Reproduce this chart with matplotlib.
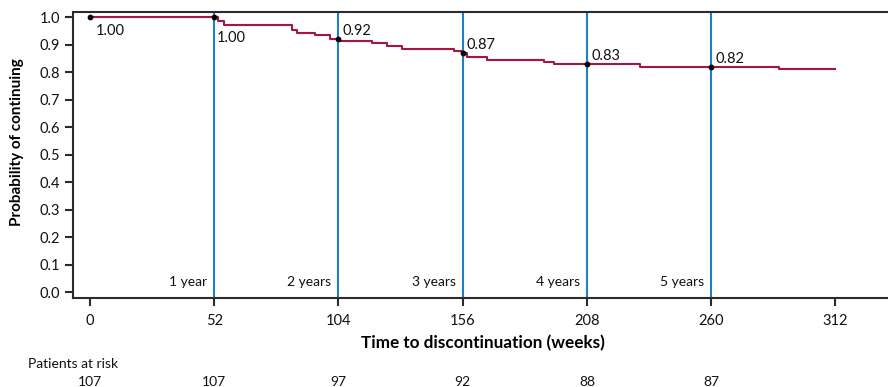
import numpy as np
import matplotlib
matplotlib.use("Agg")
import matplotlib.pyplot as plt
import matplotlib.transforms as mtransforms

plt.rcParams['font.family'] = ['Lato', 'DejaVu Sans']

# Kaplan-Meier step curve (weeks, probability)
step_weeks = [0, 53.6, 56.1, 84.4, 86.5, 94.2, 100.5, 104.5, 117.9, 124.2, 130.5,
              152.2, 155.5, 157.7, 166.0, 190.0, 194.3, 230.3, 288.4]
step_prob = [1.00, 0.988, 0.972, 0.954, 0.944, 0.935, 0.922, 0.914, 0.906, 0.896, 0.886,
             0.877, 0.869, 0.857, 0.847, 0.839, 0.829, 0.819, 0.811]
end_week = 312

# yearly markers
mark_weeks = [0, 52, 104, 156, 208, 260]
mark_prob = [1.00, 1.00, 0.92, 0.87, 0.83, 0.82]
mark_labels = ["1.00", "1.00", "0.92", "0.87", "0.83", "0.82"]

year_weeks = [52, 104, 156, 208, 260]
year_labels = ["1 year", "2 years", "3 years", "4 years", "5 years"]

xticks = [0, 52, 104, 156, 208, 260, 312]
yticks = [0.0, 0.1, 0.2, 0.3, 0.4, 0.5, 0.6, 0.7, 0.8, 0.9, 1.0]

risk_weeks = [0, 52, 104, 156, 208, 260]
risk_counts = [107, 107, 97, 92, 88, 87]

red = "#a5173f"
blue = "#1f7fc8"
dark = "#2b2b2b"
txt = "#111111"

fig = plt.figure(figsize=(8.88, 3.87), dpi=100)
ax = fig.add_axes([0.0822, 0.2307, 0.9178, 0.7383])

# year lines
for w in year_weeks:
    ax.axvline(w, color=blue, lw=1.5, zorder=1)

# step curve
xs = step_weeks + [end_week]
ys = step_prob + [step_prob[-1]]
ax.step(xs, ys, where="post", color=red, lw=1.5, zorder=2)

ax.scatter(mark_weeks, mark_prob, s=10, color="black", zorder=3)
# label offsets in points (first two sit below the dot)
offsets = [(4, -5), (2, -10), (3, 1), (3, 1), (3, 1), (3, 1)]
for (w, p, lab), off in zip(zip(mark_weeks, mark_prob, mark_labels), offsets):
    va = "top" if off[1] < 0 else "bottom"
    ax.annotate(lab, (w, p), xytext=off, textcoords="offset points",
                ha="left", va=va, fontsize=10.5, color=txt)

for w, lab in zip(year_weeks, year_labels):
    ax.text(w - 3, 0.015, lab, ha="right", va="bottom", fontsize=10, color=txt)

ax.set_xlim(-7.1, 334)
ax.set_ylim(-0.02, 1.02)
ax.set_xticks(xticks)
ax.set_yticks(yticks)
ax.set_yticklabels([f"{v:.1f}" for v in yticks])

ax.spines["right"].set_visible(False)
for s in ["left", "bottom", "top"]:
    ax.spines[s].set_color(dark)
    ax.spines[s].set_linewidth(1.5)
ax.tick_params(axis="both", direction="out", length=6, width=1.5, color=dark,
               labelsize=10.5, labelcolor=txt)
ax.tick_params(axis="x", pad=6)

ax.set_xlabel("Time to discontinuation (weeks)", fontsize=12.3, fontweight="bold")
ax.set_ylabel("Probability of continuing", fontsize=11, fontweight="bold")
# centre of x label at pixel (483, 343), y label at (17, 142)
ax.xaxis.set_label_coords((483 - 73) / (0.9178 * 888), (298 - 343) / 286)
ax.yaxis.set_label_coords((17 - 73) / (0.9178 * 888), (298 - 142) / 286)
ax.xaxis.label.set_va("center")
ax.yaxis.label.set_va("center")

# patients at risk
trans = mtransforms.blended_transform_factory(ax.transData, fig.transFigure)
fig.text(28 / 888, 1 - 364 / 387, "Patients at risk", ha="left", va="center",
         fontsize=10, color=txt)
for w, n in zip(risk_weeks, risk_counts):
    ax.text(w, 1 - 382 / 387, str(n), transform=trans, ha="center", va="center",
            fontsize=10, color=txt, clip_on=False)

fig.savefig("out.png", dpi=100)
